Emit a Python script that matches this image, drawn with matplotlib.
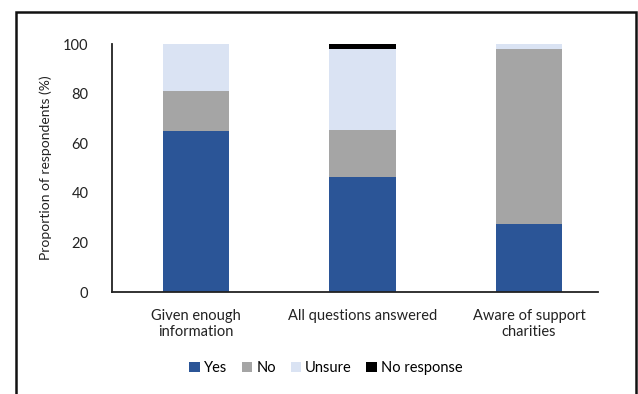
import numpy as np
import matplotlib.pyplot as plt
from matplotlib.patches import Rectangle

plt.rcParams['font.family'] = ['Lato', 'DejaVu Sans']

categories = ['Given enough\ninformation', 'All questions answered', 'Aware of support\ncharities']
yes = [65, 46.5, 27.5]
no = [16, 19, 70.5]
unsure = [19, 32.5, 2]
no_response = [0, 2, 0]

series = [('Yes', yes, '#2b5597'),
          ('No', no, '#a5a5a5'),
          ('Unsure', unsure, '#dae3f3'),
          ('No response', no_response, '#000000')]

fig = plt.figure(figsize=(6.38, 3.94), dpi=100)
ax = fig.add_axes([112/638, 102/394, 486/638, 248/394])

x = np.arange(len(categories))
bottom = np.zeros(len(categories))
for name, vals, col in series:
    ax.bar(x, vals, 0.4, bottom=bottom, color=col, label=name)
    bottom += np.array(vals)

ax.set_xlim(-0.505, 2.414)
ax.set_ylim(0, 100)
ax.set_yticks([0, 20, 40, 60, 80, 100])
ax.set_xticks(x)
ax.set_xticklabels(categories, fontsize=10.5, color='#222222', linespacing=1.25)
ax.tick_params(axis='y', length=0, pad=17, labelsize=10.5, labelcolor='#222222')
ax.tick_params(axis='x', length=0, pad=12)
ax.set_ylabel('Proportion of respondents (%)', fontsize=10, color='#222222', labelpad=8)

for s in ['top', 'right']:
    ax.spines[s].set_visible(False)
for s in ['left', 'bottom']:
    ax.spines[s].set_linewidth(1.3)
    ax.spines[s].set_color('#222222')

fig.legend(loc='center', bbox_to_anchor=(326/638, 1 - 368/394), ncol=4,
           frameon=False, fontsize=10.5, handlelength=0.7, handleheight=0.7,
           handletextpad=0.3, columnspacing=1.0)

# outer frame
fig.patches.append(Rectangle((16/638, -0.05), 620/638, 1.05 - 12/394,
                             transform=fig.transFigure, fill=False,
                             edgecolor='#111111', linewidth=1.8))

fig.savefig('out.png', dpi=100)
